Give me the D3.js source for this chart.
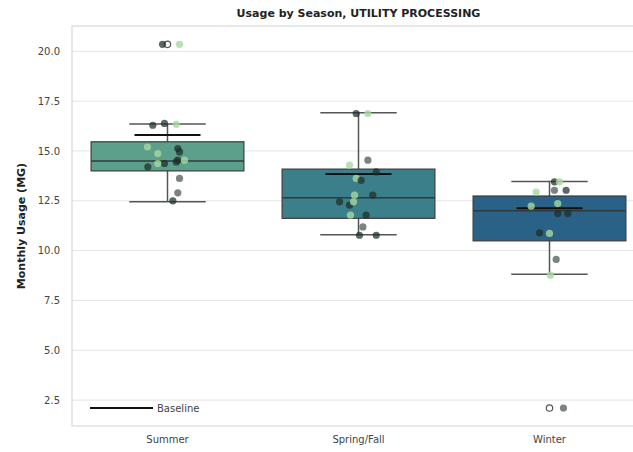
<!DOCTYPE html>
<html>
<head>
<meta charset="utf-8">
<script src="https://cdn.jsdelivr.net/npm/d3@7"></script>
<style>
  html, body { margin: 0; padding: 0; background: #fff; }
  text { font-family: "DejaVu Sans", sans-serif; }
</style>
</head>
<body>
<svg id="chart" width="633" height="452"></svg>
<script>
// Seasonal monthly usage summary (MG)
const categories = ["Summer", "Spring/Fall", "Winter"];
const boxColors = ["#5c9f8b", "#3b7f8b", "#2a6186"];
const q1 = [14.0, 11.62, 10.49];
const medians = [14.5, 12.65, 12.0];
const q3 = [15.46, 14.09, 12.74];
const whiskerLow = [12.45, 10.79, 8.81];
const whiskerHigh = [16.35, 16.92, 13.47];
const baseline = [15.8, 13.84, 12.12];
const yTicks = [2.5, 5.0, 7.5, 10.0, 12.5, 15.0, 17.5, 20.0];

// Values beyond the whiskers
const outlierSeason = ["Summer", "Winter"];
const outlierValue = [20.35, 2.1];

// Individual monthly readings (season, value, shade group, jitter in band fractions)
const pointSeason = [
  "Summer","Summer","Summer","Summer","Summer","Summer","Summer","Summer","Summer",
  "Summer","Summer","Summer","Summer","Summer","Summer","Summer","Summer","Summer",
  "Spring/Fall","Spring/Fall","Spring/Fall","Spring/Fall","Spring/Fall","Spring/Fall",
  "Spring/Fall","Spring/Fall","Spring/Fall","Spring/Fall","Spring/Fall","Spring/Fall",
  "Spring/Fall","Spring/Fall","Spring/Fall","Spring/Fall","Spring/Fall",
  "Winter","Winter","Winter","Winter","Winter","Winter","Winter",
  "Winter","Winter","Winter","Winter","Winter","Winter","Winter"
];
const pointValue = [
  16.29, 16.38, 16.34, 15.12, 14.95, 14.54, 14.45, 14.37, 14.2,
  14.37, 15.2, 14.87, 14.54, 13.62, 12.9, 12.5, 20.35, 20.35,
  16.88, 16.88, 14.54, 14.29, 13.95, 13.62,
  13.53, 12.78, 12.78, 12.45, 12.28, 12.45,
  11.78, 11.78, 11.19, 10.77, 10.77,
  13.45, 13.45, 12.94, 13.03, 13.03, 12.36, 12.23,
  11.86, 11.86, 10.89, 10.86, 9.56, 8.77, 2.1
];
const pointShade = [
  "dark","dark","light","dark","dark","dark","dark","dark","dark",
  "light","light","light","light","mid","mid","dark","dark","light",
  "dark","light","mid","light","dark","light",
  "dark","light","dark","dark","dark","light",
  "light","dark","mid","dark","dark",
  "dark","light","light","mid","dark","light","light",
  "dark","dark","dark","light","mid","light","mid"
];
const pointJitter = [
  -0.077, -0.016, 0.046, 0.054, 0.063, 0.054, 0.046, -0.016, -0.103,
  -0.051, -0.105, -0.051, 0.089, 0.063, 0.054, 0.028, -0.026, 0.063,
  -0.012, 0.049, 0.049, -0.047, 0.093, -0.012,
  0.014, -0.021, 0.075, -0.099, -0.047, -0.026,
  -0.042, 0.040, 0.023, 0.005, 0.093,
  0.026, 0.052, -0.070, 0.026, 0.087, 0.043, -0.096,
  0.043, 0.096, -0.052, 0.0, 0.035, 0.005, 0.073
];
const shadeFill = { dark: "#1d2e27", mid: "#4a5550", light: "#a6d8a0" };
const shadeOpacity = { dark: 0.72, mid: 0.72, light: 0.8 };

const svg = d3.select("#chart");
const x = d3.scaleBand().domain(categories).range([72, 645]).paddingInner(0).paddingOuter(0);
const y = d3.scaleLinear().domain([1.2, 21.27]).range([426, 26]);
const bw = x.bandwidth();
const boxW = bw * 0.8;
const cx = c => x(c) + bw / 2;

// Horizontal grid
svg.append("g")
  .selectAll("line").data(yTicks).join("line")
  .attr("x1", 72).attr("x2", 645)
  .attr("y1", d => y(d)).attr("y2", d => y(d))
  .attr("stroke", "#e4e4e4").attr("stroke-width", 1);

// Frame
svg.append("rect")
  .attr("x", 72).attr("y", 26).attr("width", 573).attr("height", 400)
  .attr("fill", "none").attr("stroke", "#d2d2d2").attr("stroke-width", 1);

// Y axis (labels only)
const yAxis = d3.axisLeft(y).tickValues(yTicks).tickFormat(d3.format(".1f")).tickSize(0).tickPadding(12);
const gy = svg.append("g").attr("transform", "translate(72,0)").call(yAxis);
gy.select(".domain").remove();
gy.selectAll("text").attr("fill", "#444").attr("font-size", 10).attr("font-family", "DejaVu Sans, sans-serif");

// X axis (labels only)
const xAxis = d3.axisBottom(x).tickSize(0).tickPadding(10);
const gx = svg.append("g").attr("transform", "translate(0,426)").call(xAxis);
gx.select(".domain").remove();
gx.selectAll("text").attr("fill", "#444").attr("font-size", 10).attr("font-family", "DejaVu Sans, sans-serif");

// Boxes
const boxes = svg.append("g");
categories.forEach((c, i) => {
  const g = boxes.append("g");
  const xc = cx(c);
  // whiskers
  g.append("line").attr("x1", xc).attr("x2", xc)
    .attr("y1", y(q3[i])).attr("y2", y(whiskerHigh[i]))
    .attr("stroke", "#555").attr("stroke-width", 1.5);
  g.append("line").attr("x1", xc).attr("x2", xc)
    .attr("y1", y(q1[i])).attr("y2", y(whiskerLow[i]))
    .attr("stroke", "#555").attr("stroke-width", 1.5);
  // caps
  [whiskerHigh[i], whiskerLow[i]].forEach(v => {
    g.append("line").attr("x1", xc - boxW / 4).attr("x2", xc + boxW / 4)
      .attr("y1", y(v)).attr("y2", y(v))
      .attr("stroke", "#555").attr("stroke-width", 1.5);
  });
  // box
  g.append("rect")
    .attr("x", xc - boxW / 2).attr("width", boxW)
    .attr("y", y(q3[i])).attr("height", y(q1[i]) - y(q3[i]))
    .attr("fill", boxColors[i]).attr("stroke", "#3c3c3c").attr("stroke-width", 1.2);
  // median
  g.append("line").attr("x1", xc - boxW / 2).attr("x2", xc + boxW / 2)
    .attr("y1", y(medians[i])).attr("y2", y(medians[i]))
    .attr("stroke", "#2f3b3b").attr("stroke-width", 1.5);
});

// Outliers (hollow markers)
svg.append("g")
  .selectAll("circle").data(outlierValue).join("circle")
  .attr("cx", (d, i) => cx(outlierSeason[i]))
  .attr("cy", d => y(d))
  .attr("r", 3.2)
  .attr("fill", "none").attr("stroke", "#555").attr("stroke-width", 1.2);

// Baseline markers
svg.append("g")
  .selectAll("line").data(baseline).join("line")
  .attr("x1", (d, i) => cx(categories[i]) - 33)
  .attr("x2", (d, i) => cx(categories[i]) + 33)
  .attr("y1", d => y(d)).attr("y2", d => y(d))
  .attr("stroke", "#111").attr("stroke-width", 2);

// Monthly points
svg.append("g")
  .selectAll("circle").data(pointValue).join("circle")
  .attr("cx", (d, i) => cx(pointSeason[i]) + pointJitter[i] * bw)
  .attr("cy", d => y(d))
  .attr("r", 3.6)
  .attr("fill", (d, i) => shadeFill[pointShade[i]])
  .attr("fill-opacity", (d, i) => shadeOpacity[pointShade[i]]);

// Legend
const lg = svg.append("g");
lg.append("line").attr("x1", 90).attr("x2", 153).attr("y1", 408).attr("y2", 408)
  .attr("stroke", "#111").attr("stroke-width", 2);
lg.append("text").attr("x", 157).attr("y", 408).attr("dy", "0.35em")
  .attr("font-size", 10).attr("fill", "#444").text("Baseline");

// Titles
svg.append("text")
  .attr("x", 358.5).attr("y", 17).attr("text-anchor", "middle")
  .attr("font-size", 11).attr("font-weight", "bold").attr("fill", "#222")
  .text("Usage by Season, UTILITY PROCESSING");

svg.append("text")
  .attr("transform", "translate(25,226) rotate(-90)")
  .attr("text-anchor", "middle")
  .attr("font-size", 11).attr("font-weight", "bold").attr("fill", "#222")
  .text("Monthly Usage (MG)");
</script>
</body>
</html>
